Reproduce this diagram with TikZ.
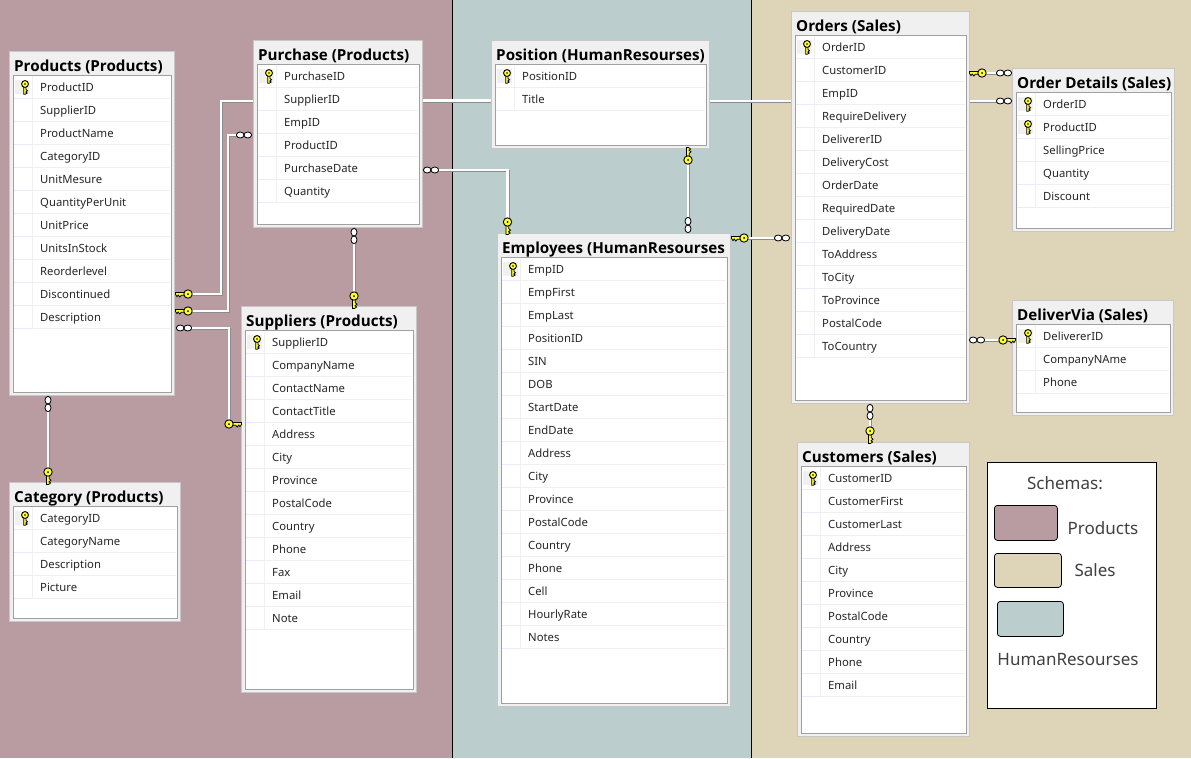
\documentclass[tikz,border=0pt]{standalone}
\usepackage{fontspec}
\setmainfont{Noto Sans}
\newfontfamily\titlefont{Open Sans}
\pgfdeclarelayer{paper}
\pgfdeclarelayer{bg}
\pgfsetlayers{paper,bg,main}
\definecolor{prodcol}{HTML}{B89CA1}
\definecolor{hrcol}{HTML}{BBCDCC}
\definecolor{salescol}{HTML}{DED5B8}
\definecolor{stripcol}{HTML}{F0F0F0}
\definecolor{framecol}{HTML}{A0A0A0}
\definecolor{keycol}{HTML}{FFFF30}
\tikzset{
    x=1pt, y=-1pt,
    tablebox/.style={rectangle, anchor=north west, inner sep=0pt, outer sep=0pt, draw=black!22, fill=stripcol, line width=1pt},
    tabletitle/.style={anchor=base west, inner sep=0pt, font=\titlefont\bfseries\fontsize{15.2}{16}\selectfont},
    rowtext/.style={anchor=base west, inner sep=0pt, font=\fontsize{11.3}{14}\selectfont, text=black!85},
    swatch/.style={rectangle, anchor=north west, inner sep=0pt, rounded corners=3pt, draw=black, line width=.8pt},
    legendtext/.style={anchor=base, inner sep=0pt, font=\fontsize{17}{20}\selectfont, text=black!75},
    link/.style={draw=white, line width=2.2pt, preaction={draw=black!45, line width=2.2pt, transform canvas={shift={(.9pt,-.9pt)}}}},
    keyend/.pic={
        \fill[keycol, draw=black, line width=.8pt] (3,-1.5) -- (12.5,-1.5) -- (12.5,0.4) -- (11,2.6) -- (9.8,1) -- (8.2,3) -- (6.6,1.2) -- (3,1.2) -- cycle;
        \fill[keycol, draw=black, line width=.9pt] (0,0) circle (4.2);
        \fill[black] (0,0) circle (1);
    },
    infend/.pic={
        \filldraw[fill=white, draw=black, line width=.8pt] (-3.8,0) ellipse (3.8 and 3);
        \filldraw[fill=white, draw=black, line width=.8pt] (3.8,0) ellipse (3.8 and 3);
    }
}
% name, left, top, right, bottom, title, number of keys, rows
\newcommand{\dbtable}[8]{
    \node[tablebox, minimum width=#4pt-#2pt, minimum height=#5pt-#3pt] (#1) at (#2,#3) {};
    \node[tabletitle] (#1-title) at ({#2+5},{#3+20}) {#6};
    \node[rectangle, anchor=north west, inner sep=0pt, outer sep=0pt, fill=white, draw=framecol, line width=.8pt,
        minimum width=#4pt-#2pt-7pt, minimum height=#5pt-#3pt-27pt] (#1-body) at ({#2+4},{#3+24}) {};
    \foreach \rowname [count=\i] in {#8} {
        \pgfmathsetmacro{\yc}{#3+36+23*(\i-1)}
        \draw[stripcol, line width=.9pt] ({#2+23},{\yc+11.5}) -- ({#4-4},{\yc+11.5});
        \draw[blue!8, line width=.9pt] ({#2+5},{\yc+11.5}) -- ({#2+23},{\yc+11.5});
        \draw[stripcol, line width=.9pt] ({#2+23},{\yc-11.5}) -- ({#2+23},{\yc+11.5});
        \node[rowtext] (#1-\i) at ({#2+31},{\yc+4}) {\rowname};
        \ifnum\i>#7\else
            \fill[stripcol] ({#2+6},{\yc-7}) rectangle ({#2+21},{\yc+7});
            \pic[rotate=-90, yscale=-1, scale=.82] at ({#2+16},{\yc-3}) {keyend};
        \fi
    }
}
\begin{document}
\begin{tikzpicture}
    \useasboundingbox (0,0) rectangle (1191,758);
    \begin{pgfonlayer}{paper}
        \fill[prodcol] (0,0) rectangle (452,758);
        \fill[hrcol] (452,0) rectangle (751,758);
        \fill[salescol] (751,0) rectangle (1191,758);
        \draw[black, line width=1pt] (452.5,0) -- (452.5,758);
        \draw[black, line width=1pt] (751,0) -- (751,758);
    \end{pgfonlayer}

    \dbtable{products}{9}{51}{174}{395}{Products (Products)}{1}{ProductID,SupplierID,ProductName,CategoryID,UnitMesure,QuantityPerUnit,UnitPrice,UnitsInStock,Reorderlevel,Discontinued,Description}
    \dbtable{purchase}{253}{40}{422}{227}{Purchase (Products)}{1}{PurchaseID,SupplierID,EmpID,ProductID,PurchaseDate,Quantity}
    \dbtable{suppliers}{241}{306}{416}{692}{Suppliers (Products)}{1}{SupplierID,CompanyName,ContactName,ContactTitle,Address,City,Province,PostalCode,Country,Phone,Fax,Email,Note}
    \dbtable{category}{9}{482}{180}{621}{Category (Products)}{1}{CategoryID,CategoryName,Description,Picture}
    \dbtable{position}{491}{40}{709}{148}{Position (HumanResourses)}{1}{PositionID,Title}
    \dbtable{employees}{497}{233}{730}{706}{Employees (HumanResourses}{1}{EmpID,EmpFirst,EmpLast,PositionID,SIN,DOB,StartDate,EndDate,Address,City,Province,PostalCode,Country,Phone,Cell,HourlyRate,Notes}
    \dbtable{orders}{791}{11}{969}{403}{Orders (Sales)}{1}{OrderID,CustomerID,EmpID,RequireDelivery,DelivererID,DeliveryCost,OrderDate,RequiredDate,DeliveryDate,ToAddress,ToCity,ToProvince,PostalCode,ToCountry}
    \dbtable{details}{1012}{68}{1174}{231}{Order Details (Sales)}{2}{OrderID,ProductID,SellingPrice,Quantity,Discount}
    \dbtable{delivervia}{1012}{300}{1173}{415}{DeliverVia (Sales)}{1}{DelivererID,CompanyNAme,Phone}
    \dbtable{customers}{797}{442}{969}{736}{Customers (Sales)}{1}{CustomerID,CustomerFirst,CustomerLast,Address,City,Province,PostalCode,Country,Phone,Email}

    % ends of the relations
    \coordinate (k1) at (188,294);
    \coordinate (k2) at (188,311);
    \coordinate (i3) at (184,328);
    \coordinate (k3) at (229,424);
    \coordinate (i4) at (244,135);
    \coordinate (i5) at (431,170);
    \coordinate (k5) at (507.5,222);
    \coordinate (i6) at (354,236);
    \coordinate (k6) at (354,296);
    \coordinate (i7) at (48,404);
    \coordinate (k7) at (48,472);
    \coordinate (k8) at (688,160);
    \coordinate (i8) at (688,225);
    \coordinate (k9) at (744,238);
    \coordinate (i9) at (782,238);
    \coordinate (k10) at (982,73);
    \coordinate (i10) at (1004,73);
    \coordinate (i11) at (1004,101);
    \coordinate (i12) at (977,340);
    \coordinate (k12) at (1003,340);
    \coordinate (i13) at (870,412);
    \coordinate (k13) at (870,431);
    % elbows
    \coordinate (e1) at (221,101);
    \coordinate (e2) at (228,135);
    \coordinate (e4) at (0,100.5);
    \coordinate (e5) at (0,101);

    \begin{pgfonlayer}{bg}
        \draw[link] (k1) -| (e1) -- (purchase.west |- e1);
        \draw[link] (k2) -| (e2) -- (i4);
        \draw[link] (i3) -| (k3);
        \draw[link] (purchase.east |- e4) -- (position.west |- e4);
        \draw[link] (position.east |- e5) -- (orders.west |- e5);
        \draw[link] (i5) -| (k5);
        \draw[link] (i6) -- (k6);
        \draw[link] (i7) -- (k7);
        \draw[link] (k8) -- (i8);
        \draw[link] (k9) -- (i9);
        \draw[link] (k10) -- (i10);
        \draw[link] (orders.east |- i11) -- (i11);
        \draw[link] (i12) -- (k12);
        \draw[link] (i13) -- (k13);
    \end{pgfonlayer}

    \pic[xscale=-1] at (k1) {keyend};
    \pic[xscale=-1] at (k2) {keyend};
    \pic at (i3) {infend};
    \pic at (k3) {keyend};
    \pic at (i4) {infend};
    \pic at (i5) {infend};
    \pic[rotate=-90, yscale=-1] at (k5) {keyend};
    \pic[rotate=90] at (i6) {infend};
    \pic[rotate=-90, yscale=-1] at (k6) {keyend};
    \pic[rotate=90] at (i7) {infend};
    \pic[rotate=-90, yscale=-1] at (k7) {keyend};
    \pic[rotate=90] at (k8) {keyend};
    \pic[rotate=90] at (i8) {infend};
    \pic[xscale=-1] at (k9) {keyend};
    \pic at (i9) {infend};
    \pic[xscale=-1] at (k10) {keyend};
    \pic at (i10) {infend};
    \pic at (i11) {infend};
    \pic at (i12) {infend};
    \pic at (k12) {keyend};
    \pic[rotate=90] at (i13) {infend};
    \pic[rotate=-90, yscale=-1] at (k13) {keyend};

    % legend
    \node[rectangle, anchor=north west, inner sep=0pt, draw=black, fill=white, line width=1pt, minimum width=169pt, minimum height=246pt] (legend) at (986.5,462) {};
    \node[legendtext] (schemas) at (1065,489) {Schemas:};
    \node[swatch, fill=prodcol, minimum width=63pt, minimum height=35pt] (swprod) at (994,505) {};
    \node[legendtext] (lblprod) at (1103,534) {Products};
    \node[swatch, fill=salescol, minimum width=67pt, minimum height=34pt] (swsales) at (994,553) {};
    \node[legendtext] (lblsales) at (1095,576) {Sales};
    \node[swatch, fill=hrcol, minimum width=66pt, minimum height=35pt] (swhr) at (997,601) {};
    \node[legendtext] (lblhr) at (1068,665) {HumanResourses};
\end{tikzpicture}
\end{document}
